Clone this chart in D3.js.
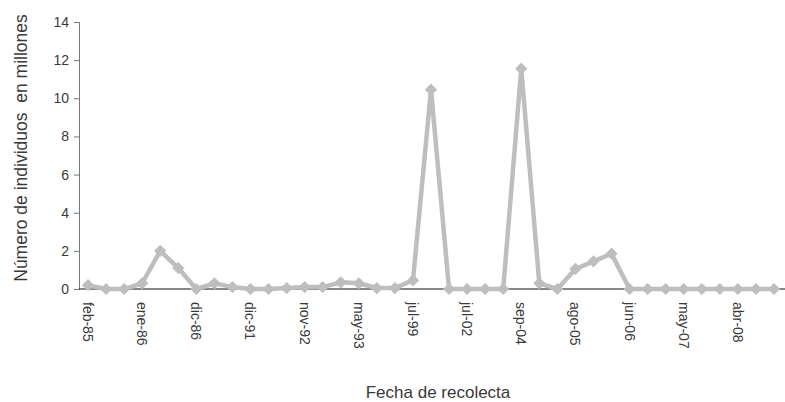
<!DOCTYPE html>
<html>
<head>
<meta charset="utf-8">
<script src="https://cdn.jsdelivr.net/npm/d3@7"></script>
<style>
  body { margin: 0; background: #fff; }
  text { font-family: "Liberation Sans", Arial, sans-serif; fill: #3a3a3a; }
</style>
</head>
<body>
<div id="chart"></div>
<script>
// --data--
const values = [0.2, 0.0, 0.0, 0.3, 2.0, 1.1, 0.0, 0.3, 0.1, 0.0,
                0.0, 0.05, 0.1, 0.1, 0.35, 0.3, 0.05, 0.05, 0.45, 10.45,
                0.0, 0.0, 0.0, 0.0, 11.55, 0.3, 0.0, 1.05, 1.45, 1.85,
                0.0, 0.0, 0.0, 0.0, 0.0, 0.0, 0.0, 0.0, 0.0];
// label shown on every third category
const tickLabels = ["feb-85", "ene-86", "dic-86", "dic-91", "nov-92", "may-93", "jul-99",
                    "jul-02", "sep-04", "ago-05", "jun-06", "may-07", "abr-08"];
const yTicks = [0, 2, 4, 6, 8, 10, 12, 14];

// --graph--
const WIDTH = 785, HEIGHT = 402;
const margin = {left: 79, right: 2, top: 22, bottom: 113};

var svg = d3.select("#chart")
  .append("svg")
  .attr("width", WIDTH)
  .attr("height", HEIGHT);

var idx = d3.range(values.length);

var x = d3.scaleBand()
  .domain(idx)
  .range([margin.left, WIDTH - margin.right]);

var y = d3.scaleLinear()
  .domain([0, 14])
  .range([HEIGHT - margin.bottom, margin.top]);

// y axis
var yAxis = svg.append("g")
  .attr("transform", `translate(${margin.left},0)`)
  .call(d3.axisLeft(y).tickValues(yTicks).tickSize(5).tickPadding(5));
yAxis.select(".domain").attr("stroke", "#777");
yAxis.selectAll(".tick line").attr("stroke", "#777");
yAxis.selectAll(".tick text")
  .style("font-size", "14px")
  .style("fill", "#3a3a3a");

// x axis (line + every third label)
svg.append("line")
  .attr("x1", margin.left)
  .attr("x2", WIDTH)
  .attr("y1", y(0))
  .attr("y2", y(0))
  .attr("stroke", "#111")
  .attr("stroke-width", 1);

svg.selectAll(".xlab")
  .data(tickLabels)
  .enter()
  .append("text")
  .attr("class", "xlab")
  .attr("transform", (d, i) => `translate(${x(i * 3) + x.bandwidth() / 2 - 5},${y(0) + 13}) rotate(90)`)
  .attr("text-anchor", "start")
  .style("font-size", "14px")
  .text(d => d);

// line
var line = d3.line()
  .x((d, i) => x(i) + x.bandwidth() / 2)
  .y(d => y(d));

svg.append("path")
  .datum(values)
  .attr("fill", "none")
  .attr("stroke", "#bdbec0")
  .attr("stroke-width", 4.5)
  .attr("stroke-linejoin", "round")
  .attr("d", line);

svg.selectAll(".pt")
  .data(values)
  .enter()
  .append("path")
  .attr("class", "pt")
  .attr("d", d3.symbol().type(d3.symbolDiamond2).size(95))
  .attr("transform", (d, i) => `translate(${x(i) + x.bandwidth() / 2},${y(d)})`)
  .attr("fill", "#bdbec0");

// titles
svg.append("text")
  .attr("transform", `translate(27,148) rotate(-90)`)
  .attr("text-anchor", "middle")
  .style("font-size", "17.5px")
  .style("white-space", "pre")
  .text("Número de individuos  en millones");

svg.append("text")
  .attr("x", 438)
  .attr("y", 398)
  .attr("text-anchor", "middle")
  .style("font-size", "17px")
  .text("Fecha de recolecta");
</script>
</body>
</html>
